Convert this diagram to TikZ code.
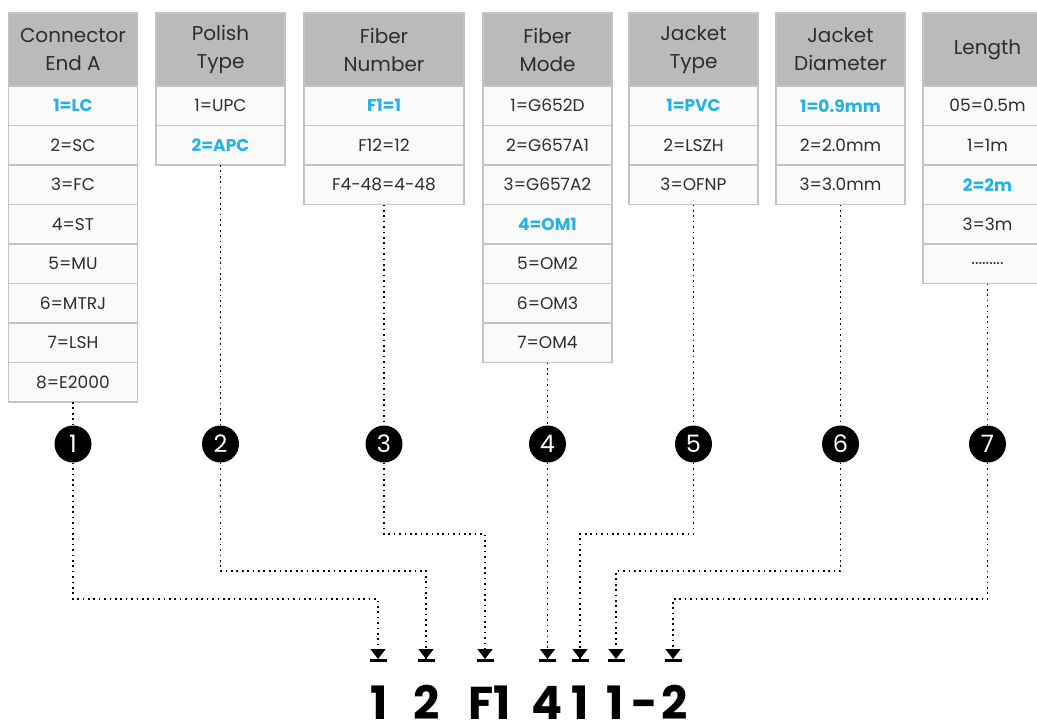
\documentclass[tikz,border=0pt]{standalone}
\usepackage{fontspec}
\setmainfont{Poppins}
\usetikzlibrary{arrows.meta,positioning}
\definecolor{headgray}{RGB}{186,186,186}
\definecolor{cellgray}{RGB}{196,196,196}
\definecolor{rowwhite}{RGB}{250,250,250}
\definecolor{hlblue}{RGB}{36,178,226}
\definecolor{inkgray}{RGB}{45,45,45}
\newcommand{\headfont}{\fontsize{20}{28}\selectfont}
\newcommand{\rowfont}{\fontsize{17}{20}\selectfont}
\tikzset{
  headcell/.style = {draw=cellgray, line width=1.5pt, fill=headgray, text=inkgray, align=center, minimum width=129pt, minimum height=73pt, inner sep=0pt, outer sep=0pt, font=\headfont, anchor=north},
  rowcell/.style = {draw=cellgray, line width=1.5pt, fill=rowwhite, text=inkgray, minimum width=129pt, minimum height=39.5pt, inner sep=0pt, outer sep=0pt, font=\rowfont},
  hlcell/.style = {rowcell, text=hlblue, font=\rowfont\bfseries},
  stepdot/.style = {circle, fill=black, text=white, minimum size=37pt, inner sep=0pt, font=\fontsize{24}{24}\selectfont},
  guide/.style = {dash pattern=on 1.7pt off 3.7pt, line width=1.7pt},
  pointer/.style = {guide, -{Triangle[width=15pt,length=10pt,sep=0pt] Bar[width=17pt,line width=3pt,sep=0pt]}},
  codechar/.style = {anchor=base, inner sep=0pt, font=\fontsize{46}{46}\selectfont\bfseries}
}

\begin{document}
\begin{tikzpicture}[x=1pt,y=-1pt]
\clip (0,0) rectangle (1037,725);
\fill[white] (0,0) rectangle (1037,725);

% column 1: connector end A
\node[headcell] (h1) at (73,13) {Connector\\End A};
\node[hlcell, below=0pt of h1] (a1) {1=LC};
\node[rowcell, below=0pt of a1] (a2) {2=SC};
\node[rowcell, below=0pt of a2] (a3) {3=FC};
\node[rowcell, below=0pt of a3] (a4) {4=ST};
\node[rowcell, below=0pt of a4] (a5) {5=MU};
\node[rowcell, below=0pt of a5] (a6) {6=MTRJ};
\node[rowcell, below=0pt of a6] (a7) {7=LSH};
\node[rowcell, below=0pt of a7] (a8) {8=E2000};

% column 2: polish type
\node[headcell] (h2) at (220.5,13) {Polish\\Type};
\node[rowcell, below=0pt of h2] (b1) {1=UPC};
\node[hlcell, below=0pt of b1] (b2) {2=APC};

% column 3: fiber number
\node[headcell, minimum width=160pt] (h3) at (384,13) {Fiber\\Number};
\node[hlcell, minimum width=160pt, below=0pt of h3] (c1) {F1=1};
\node[rowcell, minimum width=160pt, below=0pt of c1] (c2) {F12=12};
\node[rowcell, minimum width=160pt, below=0pt of c2] (c3) {F4-48=4-48};

% column 4: fiber mode
\node[headcell] (h4) at (547.5,13) {Fiber\\Mode};
\node[rowcell, below=0pt of h4] (m1) {1=G652D};
\node[rowcell, below=0pt of m1] (m2) {2=G657A1};
\node[rowcell, below=0pt of m2] (m3) {3=G657A2};
\node[hlcell, below=0pt of m3] (m4) {4=OM1};
\node[rowcell, below=0pt of m4] (m5) {5=OM2};
\node[rowcell, below=0pt of m5] (m6) {6=OM3};
\node[rowcell, below=0pt of m6] (m7) {7=OM4};

% column 5: jacket type
\node[headcell] (h5) at (693.5,13) {Jacket\\Type};
\node[hlcell, below=0pt of h5] (j1) {1=PVC};
\node[rowcell, below=0pt of j1] (j2) {2=LSZH};
\node[rowcell, below=0pt of j2] (j3) {3=OFNP};

% column 6: jacket diameter
\node[headcell] (h6) at (840.5,13) {Jacket\\Diameter};
\node[hlcell, below=0pt of h6] (d1) {1=0.9mm};
\node[rowcell, below=0pt of d1] (d2) {2=2.0mm};
\node[rowcell, below=0pt of d2] (d3) {3=3.0mm};

% column 7: length
\node[headcell] (h7) at (987.5,13) {Length};
\node[rowcell, below=0pt of h7] (l1) {05=0.5m};
\node[rowcell, below=0pt of l1] (l2) {1=1m};
\node[hlcell, below=0pt of l2] (l3) {2=2m};
\node[rowcell, below=0pt of l3] (l4) {3=3m};
\node[rowcell, below=0pt of l4] (l5) {.........};

% numbered markers
\foreach \i/\x in {1/73,2/220.5,3/384,4/547.5,5/693.5,6/840.5,7/987.5}
  \node[stepdot] (n\i) at (\x,444) {\i};

% code at the bottom
\node[codechar] (p1) at (379,719) {1};
\node[codechar] (p2) at (427,719) {2};
\node[codechar] (p3) at (490,719) {F1};
\node[codechar] (p4) at (547,719) {4};
\node[codechar] (p5) at (580,719) {1};
\node[codechar] (p6) at (615,719) {1};
\node[codechar] (p7) at (645,719) {-};
\node[codechar] (p8) at (675,719) {2};

% arrow targets and bends
\coordinate (t1) at (378,662);
\coordinate (t2) at (426,662);
\coordinate (t3) at (485,662);
\coordinate (t4) at (547.5,662);
\coordinate (t5) at (580,662);
\coordinate (t6) at (616,662);
\coordinate (t7) at (673,662);
\coordinate (k1) at (378,599);
\coordinate (k2) at (426,571);
\coordinate (k3) at (485,534);
\coordinate (k5) at (580,534);
\coordinate (k6) at (616,571);
\coordinate (k7) at (673,599);

% guide lines
\draw[guide] (a8) -- (n1);
\draw[guide] (b2) -- (n2);
\draw[guide] (c3) -- (n3);
\draw[guide] (m7) -- (n4);
\draw[guide] (j3) -- (n5);
\draw[guide] (d3) -- (n6);
\draw[guide] (l5) -- (n7);

\draw[pointer] (n1) |- (k1) -- (t1);
\draw[pointer] (n2) |- (k2) -- (t2);
\draw[pointer] (n3) |- (k3) -- (t3);
\draw[pointer] (n4) -- (t4);
\draw[pointer] (n5) |- (k5) -- (t5);
\draw[pointer] (n6) |- (k6) -- (t6);
\draw[pointer] (n7) |- (k7) -- (t7);
\end{tikzpicture}
\end{document}
